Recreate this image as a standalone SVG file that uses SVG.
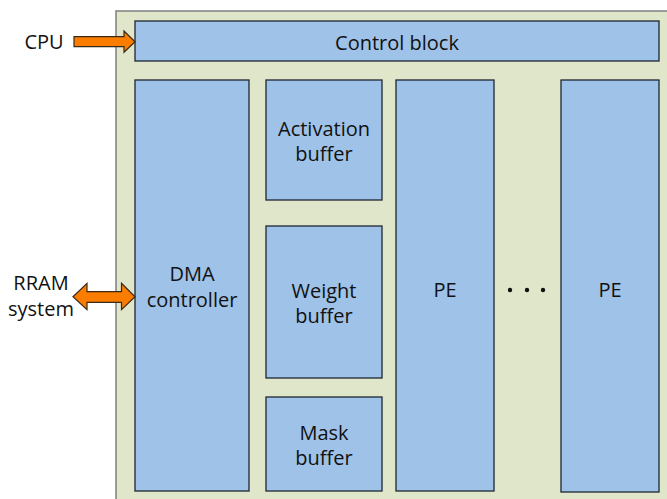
<svg xmlns="http://www.w3.org/2000/svg" width="667" height="499" viewBox="0 0 667 499">
  <style>
    .chip { fill: #dfe6ca; stroke: #7f7f7f; stroke-width: 1.5; }
    .blk { fill: #9fc2e8; stroke: #1e2630; stroke-width: 1.3; }
    .lbl { font-family: "Open Sans", "Liberation Sans", sans-serif; font-size: 20px; fill: #111111; text-anchor: middle; }
    .arrow { fill: #fa7d00; stroke: #3a2a1a; stroke-width: 1.2; stroke-linejoin: miter; }
    .dot { fill: #111111; }
  </style>

  <!-- accelerator chip boundary -->
  <rect id="chip" class="chip" x="116" y="11" width="560" height="500"/>

  <g id="control-block">
    <rect class="blk" x="135" y="21" width="524" height="40"/>
    <text class="lbl" x="397" y="49.5">Control block</text>
  </g>

  <g id="dma-controller">
    <rect class="blk" x="135" y="80" width="114" height="411"/>
    <text class="lbl" x="192" y="281">DMA</text>
    <text class="lbl" x="192" y="307">controller</text>
  </g>

  <g id="activation-buffer">
    <rect class="blk" x="266" y="80" width="116" height="120"/>
    <text class="lbl" x="324" y="135.5">Activation</text>
    <text class="lbl" x="324" y="161">buffer</text>
  </g>

  <g id="weight-buffer">
    <rect class="blk" x="266" y="226" width="116" height="152"/>
    <text class="lbl" x="324" y="297.5">Weight</text>
    <text class="lbl" x="324" y="323">buffer</text>
  </g>

  <g id="mask-buffer">
    <rect class="blk" x="266" y="397" width="116" height="94"/>
    <text class="lbl" x="324" y="439.5">Mask</text>
    <text class="lbl" x="324" y="465">buffer</text>
  </g>

  <g id="pe-1">
    <rect class="blk" x="396" y="80" width="98" height="411"/>
    <text class="lbl" x="445" y="297">PE</text>
  </g>

  <g id="ellipsis">
    <circle class="dot" cx="510" cy="290" r="2.2"/>
    <circle class="dot" cx="527" cy="290" r="2.2"/>
    <circle class="dot" cx="543" cy="290" r="2.2"/>
  </g>

  <g id="pe-n">
    <rect class="blk" x="561" y="80" width="98" height="412"/>
    <text class="lbl" x="610" y="297">PE</text>
  </g>

  <g id="cpu">
    <text class="lbl" x="44" y="49">CPU</text>
  </g>

  <g id="rram-system">
    <text class="lbl" x="41" y="290">RRAM</text>
    <text class="lbl" x="41" y="316">system</text>
  </g>

  <g id="connectors">
    <!-- CPU to control block -->
    <polygon class="arrow" points="74,36.7 124,36.7 124,31 135,41.7 124,52.3 124,46.7 74,46.7"/>
    <!-- RRAM system to/from DMA controller -->
    <polygon class="arrow" points="73,296.7 87,283.3 87,291.7 121.5,291.7 121.5,283.3 135,296.7 121.5,309.7 121.5,302.3 87,302.3 87,309.7"/>
  </g>
</svg>
